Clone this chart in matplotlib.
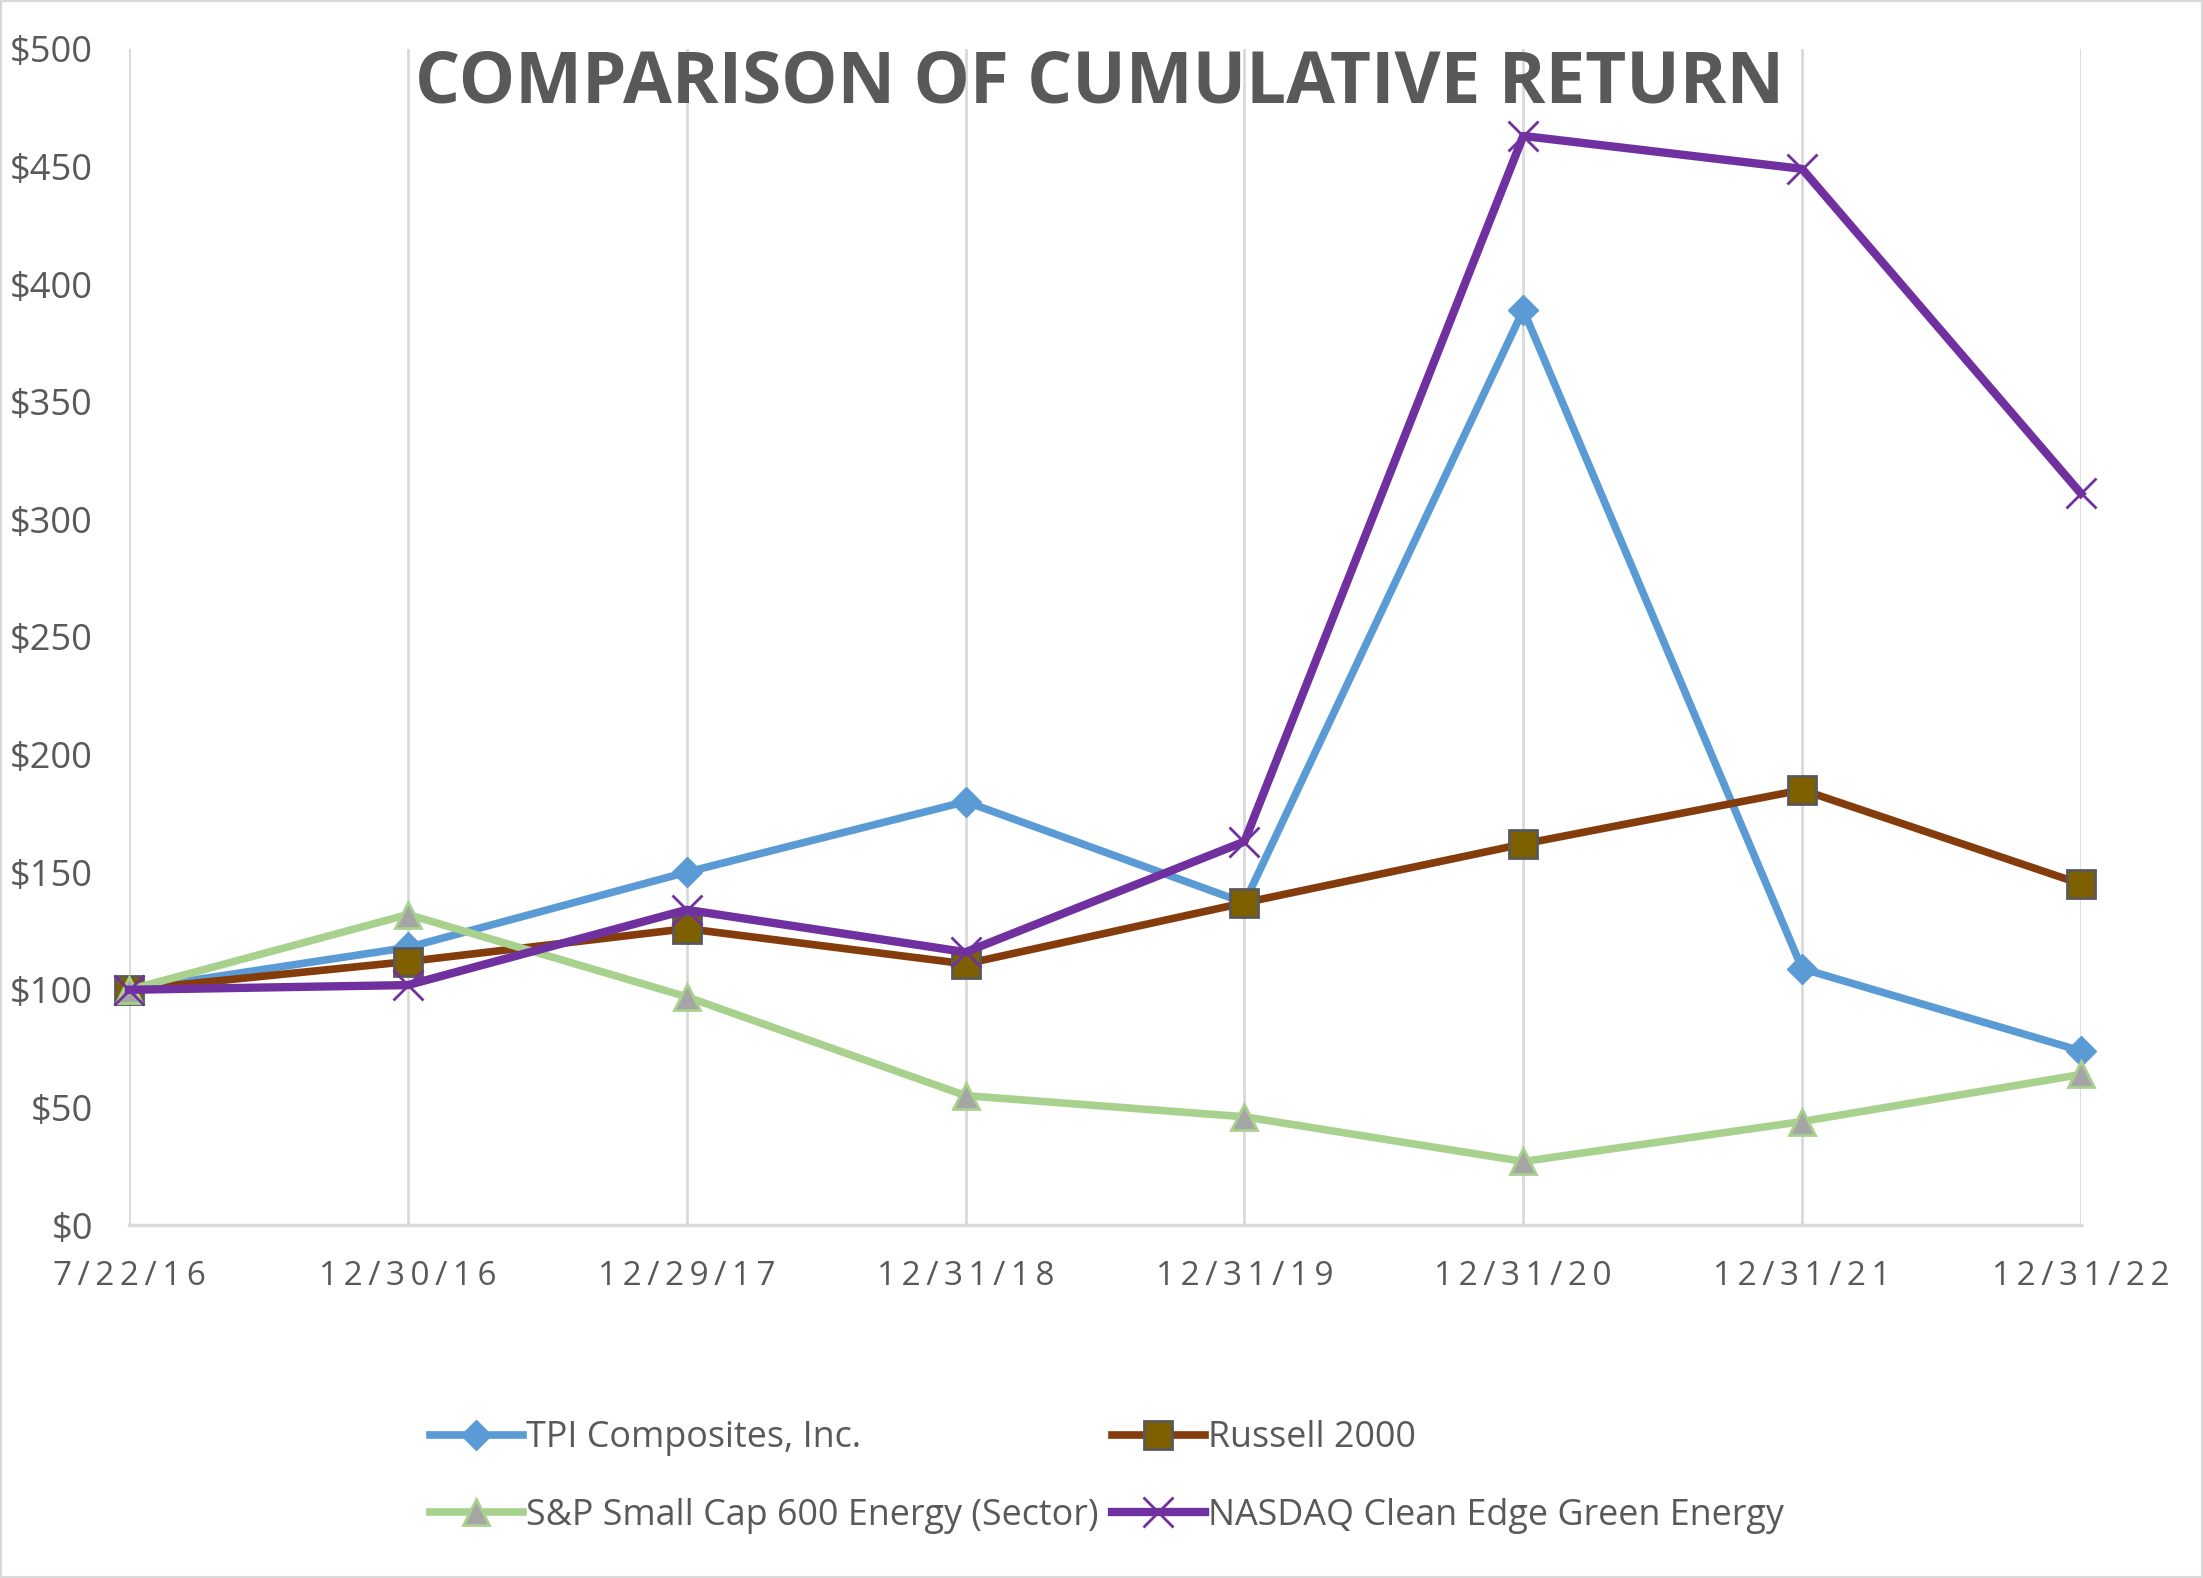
import matplotlib
matplotlib.use("Agg")
import matplotlib.pyplot as plt
import matplotlib.patches as mpatches

plt.rcParams["font.family"] = ["Open Sans", "DejaVu Sans"]

dates = ["7/22/16", "12/30/16", "12/29/17", "12/31/18", "12/31/19", "12/31/20", "12/31/21", "12/31/22"]
tpi = [100, 118, 150, 180, 137, 389, 109, 74]
russell = [100, 112, 126, 111, 137, 162, 185, 145]
sp600 = [100, 132, 97, 55, 46, 27, 44, 64]
nasdaq = [100, 102, 134, 116, 163, 463, 449, 311]
y_ticks = [0, 50, 100, 150, 200, 250, 300, 350, 400, 450, 500]

grey = "#595959"
x = list(range(len(dates)))

fig = plt.figure(figsize=(22.03, 15.78), dpi=100)
ax = fig.add_axes([0.0586, 0.2237, 0.9446 - 0.0586, 0.969 - 0.2237])

ax.plot(x, tpi, color="#5B9BD5", lw=5.5, marker="D", ms=15, mfc="#5B9BD5", mec="#5B9BD5",
        label="TPI Composites, Inc.", zorder=3, clip_on=False)
ax.plot(x, russell, color="#843C0C", lw=5.5, marker="s", ms=20, mfc="#7F6000", mec=grey, mew=2,
        label="Russell 2000", zorder=4, clip_on=False)
ax.plot(x, sp600, color="#A9D18E", lw=5.5, marker="^", ms=19, mfc="#A5A5A5", mec="#A9D18E", mew=2,
        label="S&P Small Cap 600 Energy (Sector)", zorder=5, clip_on=False)
ax.plot(x, nasdaq, color="#7030A0", lw=6, marker="x", ms=22, mec="#7030A0", mew=2,
        label="NASDAQ Clean Edge Green Energy", zorder=6, clip_on=False)

ax.set_xlim(0, 7)
ax.set_ylim(0, 500)
ax.set_yticks(y_ticks)
ax.set_yticklabels(["$%d" % v for v in y_ticks])
ax.set_xticks(x)
ax.set_xticklabels(["\u2009".join(d) for d in dates])
ax.tick_params(axis="y", length=0, pad=26, labelsize=26, labelcolor=grey)
ax.tick_params(axis="x", length=0, pad=25, labelsize=24, labelcolor=grey)

ax.grid(axis="x", color="#D9D9D9", lw=2)
ax.set_axisbelow(True)
for s in ["top", "right", "left"]:
    ax.spines[s].set_visible(False)
ax.spines["bottom"].set_color("#D9D9D9")
ax.spines["bottom"].set_linewidth(2.5)

fig.text(0.499, 0.947, "COMPARISON OF CUMULATIVE RETURN", ha="center", va="center",
         fontsize=51, fontweight="bold", color=grey)

h, l = ax.get_legend_handles_labels()
order = [0, 2, 1, 3]
fig.legend([h[i] for i in order], [l[i] for i in order], ncol=2, loc="center",
           bbox_to_anchor=(0.5025, 0.064), frameon=False, fontsize=25.8,
           labelcolor=grey, handlelength=2.6, handletextpad=0.1,
           columnspacing=0.35, labelspacing=1.15, borderpad=0)

fig.patches.append(mpatches.Rectangle((0, 0), 1, 1, transform=fig.transFigure,
                                      fill=False, edgecolor="#D9D9D9", lw=3))

fig.savefig("out.png", dpi=100)
